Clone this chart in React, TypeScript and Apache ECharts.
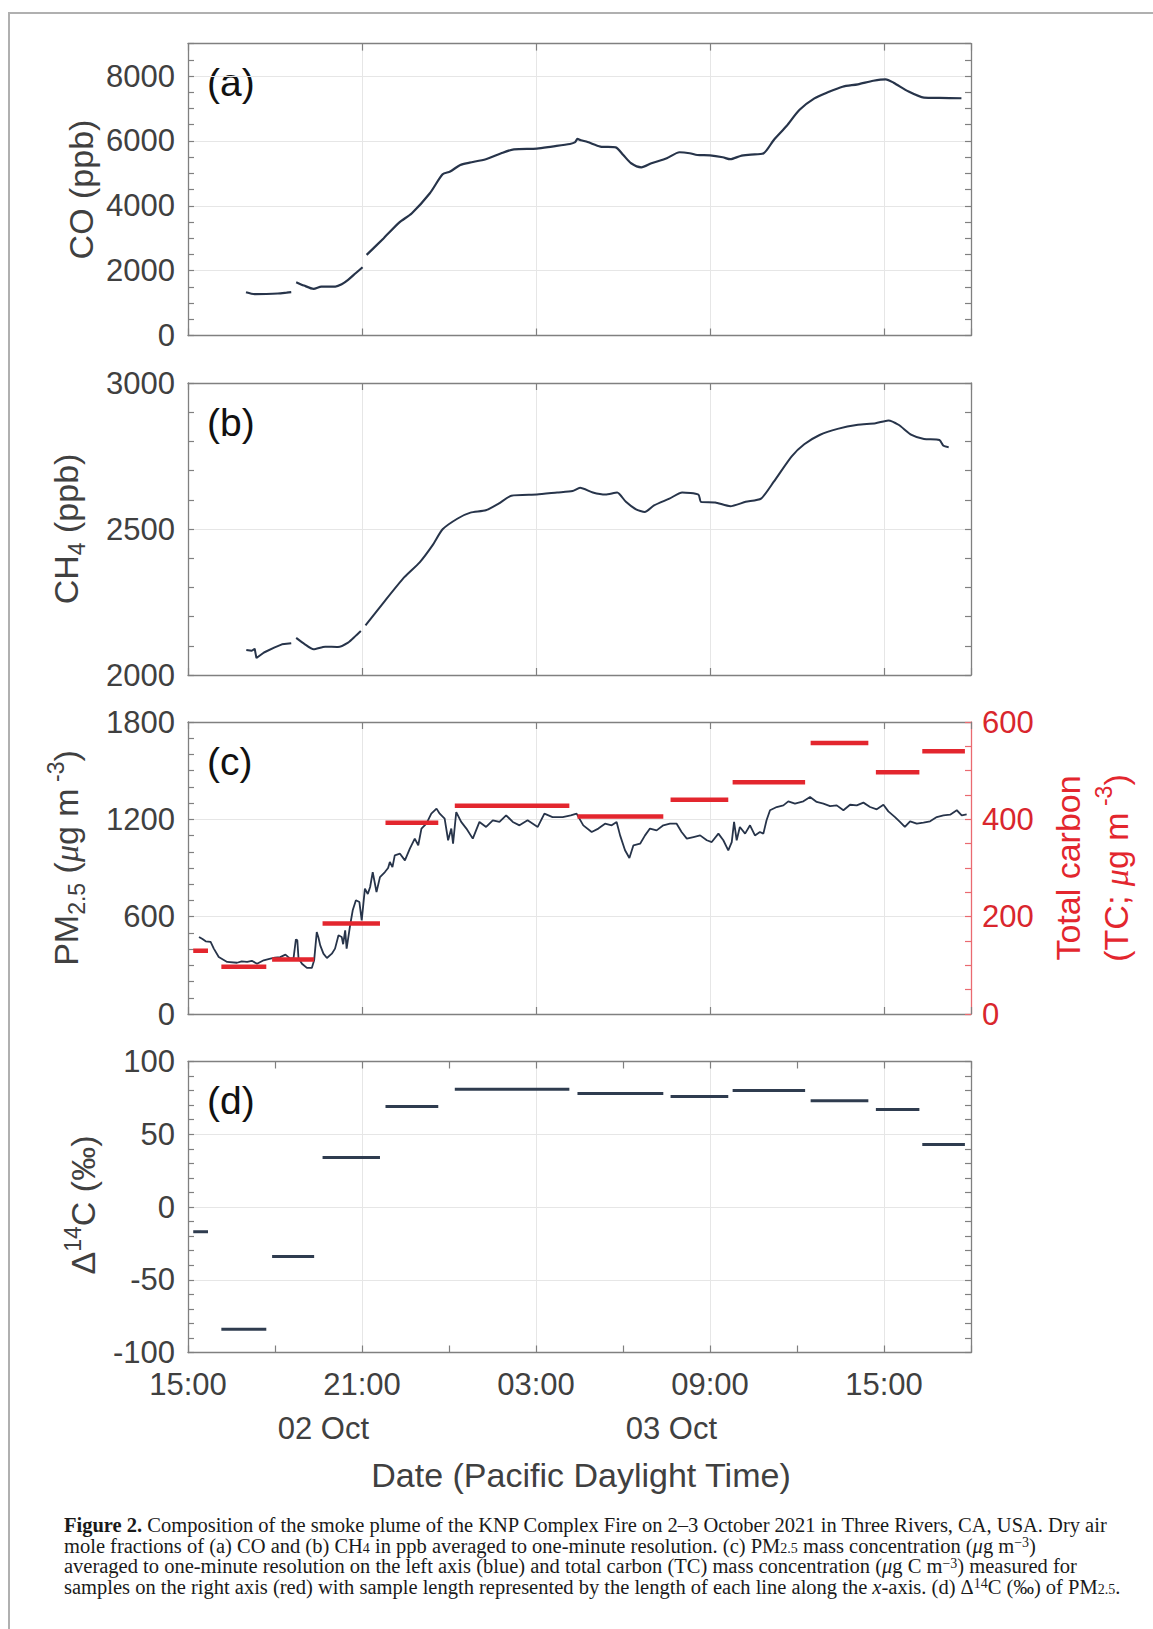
import React, { useEffect, useRef } from "react";
import * as echarts from "echarts";

// ---------------- DATA (x = hours since 2021-10-02 15:00 PDT) ----------------
const xTickLabels = ["15:00", "21:00", "03:00", "09:00", "15:00"];
const dateLabels = ["02 Oct", "03 Oct"];
const dateLabelHours = [4.67, 16.67];

const coSeg1 = [[2.0, 1335], [2.3, 1275], [2.7, 1280], [3.1, 1295], [3.4, 1320], [3.56, 1335]];
const coSeg2 = [[3.73, 1645], [4.0, 1540], [4.33, 1440], [4.6, 1510], [5.08, 1510], [5.3, 1580], [5.52, 1715], [5.78, 1920], [6.02, 2105]];
const coSeg3 = [
  [6.16, 2485], [6.75, 3000], [7.28, 3480], [7.72, 3770], [8.34, 4385], [8.78, 4970], [9.04, 5055],
  [9.39, 5260], [9.71, 5330], [10.27, 5435], [10.8, 5620], [11.24, 5740], [12.03, 5760], [12.55, 5825],
  [13.17, 5905], [13.35, 5960], [13.43, 6060], [13.55, 6020], [13.78, 5965], [14.22, 5825], [14.75, 5800],
  [15.01, 5565], [15.28, 5310], [15.63, 5185], [15.98, 5310], [16.51, 5465], [16.95, 5650], [17.3, 5620],
  [17.56, 5565], [18.0, 5555], [18.44, 5495], [18.7, 5435], [19.05, 5535], [19.41, 5575], [19.85, 5620],
  [20.2, 6030], [20.64, 6460], [21.08, 6955], [21.6, 7310], [22.04, 7490], [22.57, 7670], [23.1, 7745],
  [23.63, 7855], [24.06, 7900], [24.33, 7795], [24.85, 7520], [25.38, 7335], [25.91, 7325], [26.67, 7315],
];

const ch4Seg1 = [[2.01, 2086], [2.2, 2083], [2.3, 2090], [2.36, 2058], [2.62, 2077], [2.97, 2094], [3.24, 2105], [3.56, 2109]];
const ch4Seg2 = [[3.73, 2127], [4.03, 2105], [4.33, 2088], [4.73, 2097], [5.17, 2096], [5.52, 2111], [5.78, 2134], [5.96, 2151]];
const ch4Seg3 = [
  [6.12, 2170], [6.75, 2249], [7.46, 2335], [7.99, 2386], [8.43, 2444], [8.78, 2499], [9.3, 2536],
  [9.74, 2556], [10.27, 2564], [10.71, 2587], [11.15, 2614], [12.03, 2618], [12.73, 2625], [13.26, 2630],
  [13.52, 2641], [13.96, 2625], [14.4, 2618], [14.8, 2625], [15.1, 2593], [15.45, 2567], [15.75, 2558],
  [16.07, 2581], [16.6, 2604], [17.04, 2625], [17.6, 2618], [17.69, 2593], [18.18, 2591], [18.7, 2578],
  [19.23, 2593], [19.76, 2604], [20.2, 2662], [20.81, 2748], [21.25, 2790], [21.78, 2822], [22.4, 2843],
  [23.1, 2857], [23.71, 2862], [24.15, 2872], [24.5, 2857], [24.95, 2822], [25.38, 2808], [25.91, 2805],
  [26.05, 2785], [26.23, 2780],
];

const pm25 = [
  [0.38, 475], [0.5, 462], [0.61, 448], [0.78, 444], [0.89, 403], [1.06, 351], [1.35, 321], [1.69, 316],
  [1.85, 325], [2.04, 321], [2.2, 328], [2.38, 310], [2.61, 331], [2.84, 341], [3.0, 348], [3.18, 351],
  [3.36, 366], [3.45, 352], [3.53, 341], [3.64, 345], [3.72, 460], [3.77, 454], [3.81, 345], [3.93, 310],
  [4.1, 284], [4.27, 284], [4.35, 331], [4.44, 505], [4.5, 470], [4.56, 423], [4.67, 372], [4.79, 345],
  [4.96, 372], [5.07, 403], [5.19, 485], [5.3, 475], [5.35, 430], [5.42, 516], [5.47, 403], [5.59, 547],
  [5.68, 639], [5.79, 701], [5.91, 690], [5.99, 577], [6.1, 773], [6.2, 740], [6.28, 783], [6.37, 875],
  [6.5, 752], [6.62, 844], [6.79, 875], [6.9, 900], [6.96, 937], [7.05, 905], [7.13, 978], [7.31, 988],
  [7.48, 947], [7.65, 1019], [7.82, 1081], [7.94, 1040], [8.05, 1143], [8.22, 1173], [8.39, 1235],
  [8.57, 1266], [8.68, 1235], [8.85, 1204], [8.97, 1071], [9.08, 1143], [9.14, 1050], [9.25, 1245],
  [9.42, 1184], [9.6, 1143], [9.82, 1081], [10.05, 1184], [10.28, 1153], [10.51, 1194], [10.74, 1184],
  [10.97, 1225], [11.2, 1184], [11.43, 1163], [11.71, 1194], [12.06, 1153], [12.29, 1235], [12.57, 1214],
  [12.92, 1214], [13.2, 1225], [13.4, 1235], [13.63, 1163], [13.92, 1122], [14.15, 1143], [14.38, 1173],
  [14.61, 1163], [14.78, 1184], [14.9, 1101], [15.07, 1009], [15.22, 962], [15.36, 1040], [15.59, 1050],
  [15.76, 1101], [15.93, 1143], [16.16, 1132], [16.39, 1163], [16.62, 1173], [16.85, 1173], [17.02, 1122],
  [17.2, 1081], [17.43, 1091], [17.66, 1101], [17.89, 1071], [18.06, 1060], [18.29, 1112], [18.46, 1071],
  [18.63, 1009], [18.75, 1060], [18.83, 1184], [18.92, 1071], [19.03, 1153], [19.21, 1112], [19.38, 1163],
  [19.55, 1101], [19.72, 1122], [19.84, 1112], [19.95, 1194], [20.07, 1256], [20.3, 1276], [20.53, 1286],
  [20.7, 1311], [20.93, 1297], [21.22, 1311], [21.45, 1338], [21.68, 1307], [21.91, 1297], [22.14, 1282],
  [22.37, 1286], [22.6, 1256], [22.83, 1290], [23.06, 1286], [23.29, 1303], [23.52, 1276], [23.75, 1262],
  [23.98, 1290], [24.15, 1249], [24.38, 1214], [24.55, 1184], [24.72, 1153], [24.9, 1188], [25.13, 1173],
  [25.36, 1180], [25.59, 1188], [25.82, 1214], [26.05, 1225], [26.28, 1229], [26.51, 1256], [26.68, 1225],
  [26.85, 1231],
];

// filter samples (start / end hour), total carbon (ug C m-3) and Delta14C (permil)
const sampleStart = [0.18, 1.15, 2.9, 4.64, 6.81, 9.2, 13.43, 16.64, 18.78, 21.47, 23.72, 25.32];
const sampleEnd = [0.69, 2.7, 4.35, 6.62, 8.63, 13.15, 16.39, 18.63, 21.28, 23.46, 25.22, 26.79];
const tcValues = [130, 97, 112, 186, 393, 428, 406, 440, 476, 557, 497, 540];
const d14cValues = [-17, -84, -34, 34, 69, 81, 78, 76, 80, 73, 67, 43];

// ---------------- STYLE / LAYOUT ----------------
const W = 1153;
const H = 1629;
const PLOT_L = 188;
const PLOT_R = 971;
const X_MAX = 27;
const SANS = "Liberation Sans, Arial, Helvetica, sans-serif";
const SERIF = "Liberation Serif, Times New Roman, serif";
const NAVY = "#27344a";
const RED = "#e3262e";
const RED_AXIS = "#ea6a70";
const AXIS = "#808080";
const GRIDC = "#e6e6e6";
const TXT = "#404040";
const TICK_FS = 31;
const TITLE_FS = 34;

const panels = [
  { top: 43.6, bottom: 335.5, min: 0, max: 9000, major: 2000, minor: 500, xStep: 6, xLabels: false },
  { top: 383, bottom: 675, min: 2000, max: 3000, major: 500, minor: 100, xStep: 6, xLabels: false },
  { top: 722, bottom: 1014, min: 0, max: 1800, major: 600, minor: 100, xStep: 6, xLabels: false },
  { top: 1061.5, bottom: 1352.5, min: -100, max: 100, major: 50, minor: 10, xStep: 3, xLabels: true },
];

function buildOption() {
  const grid: any[] = [];
  const xAxis: any[] = [];
  const yAxis: any[] = [];
  const px: number[] = [];
  const py: number[] = [];
  let tcY = -1;
  const axLine = { color: AXIS, width: 1.3 };
  const tickStyle = { color: AXIS, width: 1.2 };

  panels.forEach((p, gi) => {
    grid.push({ left: PLOT_L, width: PLOT_R - PLOT_L, top: p.top, height: p.bottom - p.top, containLabel: false, outerBoundsMode: "none" });
    const xb = { type: "value", gridIndex: gi, min: 0, max: X_MAX };
    xAxis.push({
      ...xb, position: "bottom", interval: 6,
      axisLine: { show: true, onZero: false, lineStyle: axLine },
      axisTick: { show: false },
      splitLine: { show: true, lineStyle: { color: GRIDC, width: 1 } },
      axisLabel: p.xLabels
        ? {
            show: true, fontSize: TICK_FS, fontFamily: SANS, color: TXT, margin: 16, showMaxLabel: false,
            formatter: (v: number) => (v % 6 === 0 && v < X_MAX ? xTickLabels[v / 6] : ""),
          }
        : { show: false },
    });
    px.push(xAxis.length - 1);
    xAxis.push({
      ...xb, position: "bottom", interval: p.xStep,
      axisLine: { show: false, onZero: false },
      axisTick: { show: true, inside: true, length: 7, lineStyle: tickStyle },
      splitLine: { show: false }, axisLabel: { show: false },
    });
    xAxis.push({
      ...xb, position: "top", interval: p.xStep,
      axisLine: { show: true, onZero: false, lineStyle: axLine },
      axisTick: { show: true, inside: true, length: 7, lineStyle: tickStyle },
      splitLine: { show: false }, axisLabel: { show: false },
    });

    const yb = { type: "value", gridIndex: gi, min: p.min, max: p.max };
    yAxis.push({
      ...yb, position: "left", interval: p.major,
      axisLine: { show: true, onZero: false, lineStyle: axLine },
      axisTick: { show: false },
      splitLine: { show: true, lineStyle: { color: GRIDC, width: 1 } },
      axisLabel: {
        show: true, fontSize: TICK_FS, fontFamily: SANS, color: TXT, margin: 13,
        formatter: (v: number) => ((v - p.min) % p.major === 0 ? String(v) : ""),
      },
    });
    py.push(yAxis.length - 1);
    yAxis.push({
      ...yb, position: "left", interval: p.minor,
      axisLine: { show: false, onZero: false },
      axisTick: { show: true, inside: true, length: 6, lineStyle: tickStyle },
      splitLine: { show: false }, axisLabel: { show: false },
    });
    if (gi === 2) {
      yAxis.push({
        type: "value", gridIndex: gi, min: 0, max: 600, interval: 200, position: "right",
        axisLine: { show: true, onZero: false, lineStyle: { color: RED_AXIS, width: 1.3 } },
        axisTick: { show: false }, splitLine: { show: false },
        axisLabel: { show: true, fontSize: TICK_FS, fontFamily: SANS, color: "#d9262d", margin: 11 },
      });
      tcY = yAxis.length - 1;
      yAxis.push({
        type: "value", gridIndex: gi, min: 0, max: 600, interval: 50, position: "right",
        axisLine: { show: false, onZero: false },
        axisTick: { show: true, inside: true, length: 6, lineStyle: { color: RED_AXIS, width: 1.2 } },
        splitLine: { show: false }, axisLabel: { show: false },
      });
    } else {
      yAxis.push({
        ...yb, position: "right", interval: p.minor,
        axisLine: { show: true, onZero: false, lineStyle: axLine },
        axisTick: { show: true, inside: true, length: 6, lineStyle: tickStyle },
        splitLine: { show: false }, axisLabel: { show: false },
      });
    }
  });

  const lineSeries = (data: number[][], gi: number, width: number, smooth = 0) => ({
    type: "line", xAxisIndex: px[gi], yAxisIndex: py[gi], data, showSymbol: false, symbol: "none",
    silent: true, smooth, lineStyle: { color: NAVY, width }, z: 2,
  });

  const segSeries = (values: number[], yIdx: number, gi: number, color: string, width: number) => ({
    type: "custom", xAxisIndex: px[gi], yAxisIndex: yIdx, silent: true, z: 4,
    data: sampleStart.map((s, i) => [s, sampleEnd[i], values[i]]),
    encode: { x: [0, 1], y: 2 },
    renderItem: (_params: any, api: any) => {
      const a = api.coord([api.value(0), api.value(2)]);
      const b = api.coord([api.value(1), api.value(2)]);
      return {
        type: "line",
        shape: { x1: a[0], y1: a[1], x2: b[0], y2: b[1] },
        style: { stroke: color, lineWidth: width, lineCap: "butt" },
      };
    },
  });

  const series: any[] = [
    lineSeries(coSeg1, 0, 2.2, 0.25), lineSeries(coSeg2, 0, 2.2, 0.25), lineSeries(coSeg3, 0, 2.2, 0.25),
    lineSeries(ch4Seg1, 1, 2), lineSeries(ch4Seg2, 1, 2, 0.2), lineSeries(ch4Seg3, 1, 2, 0.2),
    lineSeries(pm25, 2, 1.8),
    segSeries(tcValues, tcY, 2, RED, 4.5),
    segSeries(d14cValues, py[3], 3, "#2f3c4f", 3),
  ];

  const hourToX = (h: number) => PLOT_L + (h / X_MAX) * (PLOT_R - PLOT_L);

  const txt = (x: number, y: number, text: string, extra: any = {}, rot = 0) => ({
    type: "text", x, y, rotation: rot, silent: true,
    style: {
      text, fontSize: TITLE_FS, fontFamily: SANS, fill: TXT,
      align: "center", verticalAlign: "middle", textAlign: "center", textVerticalAlign: "middle",
      ...extra,
    },
  });

  const mk = (fs: number, extra: any = {}) => ({ fontSize: fs, fontFamily: SANS, fill: TXT, color: TXT, ...extra });
  const ytRich = {
    m: mk(TITLE_FS, { lineHeight: 44 }),
    s: mk(23, { lineHeight: 23, verticalAlign: "bottom" }),
    p: mk(23, { lineHeight: 23, verticalAlign: "top" }),
    i: mk(TITLE_FS, { lineHeight: 44, fontStyle: "italic", fontFamily: SERIF }),
  };
  const redRich = {
    m: mk(TITLE_FS, { lineHeight: 48, fill: RED, color: RED }),
    p: mk(23, { lineHeight: 23, verticalAlign: "top", fill: RED, color: RED }),
    i: mk(TITLE_FS, { lineHeight: 48, fontStyle: "italic", fontFamily: SERIF, fill: RED, color: RED }),
  };

  const capFS = 20.5;
  const CAP_LH = 20;
  const cap = (fs: number, extra: any = {}) => ({ fontSize: fs, fontFamily: SERIF, fill: "#1a1a1a", ...extra });
  const capRich = {
    b: cap(capFS, { fontWeight: "bold", lineHeight: CAP_LH }),
    s: cap(14, { lineHeight: 7, verticalAlign: "bottom" }),
    p: cap(14, { lineHeight: 7, verticalAlign: "top" }),
    i: cap(capFS, { fontStyle: "italic", lineHeight: CAP_LH }),
  };
  const captionLines = [
    "{b|Figure 2.} Composition of the smoke plume of the KNP Complex Fire on 2–3 October 2021 in Three Rivers, CA, USA. Dry air",
    "mole fractions of (a) CO and (b) CH{s|4} in ppb averaged to one-minute resolution. (c) PM{s|2.5} mass concentration ({i|μ}g m{p|−3})",
    "averaged to one-minute resolution on the left axis (blue) and total carbon (TC) mass concentration ({i|μ}g C m{p|−3}) measured for",
    "samples on the right axis (red) with sample length represented by the length of each line along the {i|x}-axis. (d) Δ{p|14}C (‰) of PM{s|2.5}.",
  ];
  const captionY = [1525, 1545.5, 1566, 1586.5];

  const graphic: any[] = [
    {
      type: "polyline", silent: true,
      shape: { points: [[9, H], [9, 13], [W, 13]] },
      style: { stroke: "#b0b0b0", lineWidth: 2, fill: "none" },
    },
    // panel letters
    ...["(a)", "(b)", "(c)", "(d)"].map((t, i) =>
      txt(207, panels[i].top + 39, t, { fontSize: 39, fill: "#111", align: "left", textAlign: "left" })
    ),
    // y-axis titles
    txt(81, 189.5, "CO (ppb)", {}, Math.PI / 2),
    txt(66, 529, "{m|CH}{s|4}{m| (ppb)}", { rich: ytRich }, Math.PI / 2),
    txt(66, 858, "{m|PM}{s|2.5}{m| (}{i|μ}{m|g m}{p| -3}{m|)}", { rich: ytRich }, Math.PI / 2),
    txt(83, 1205, "{m|Δ}{p|14}{m|C (‰)}", { rich: ytRich }, Math.PI / 2),
    txt(1092, 868, "{m|Total carbon}\n{m|(TC; }{i|μ}{m|g m}{p| -3}{m|)}", { rich: redRich, fill: RED }, Math.PI / 2),
    // date labels and x title
    ...dateLabels.map((d, i) => txt(hourToX(dateLabelHours[i]), 1428, d, { fontSize: TICK_FS })),
    txt(581, 1475, "Date (Pacific Daylight Time)", { fontSize: TITLE_FS }),
    // caption
    ...captionLines.map((t, i) =>
      txt(64, captionY[i], t, {
        fontSize: capFS, fontFamily: SERIF, fill: "#1a1a1a", lineHeight: CAP_LH, rich: capRich,
        align: "left", textAlign: "left",
      })
    ),
  ];

  return { animation: false, backgroundColor: "#ffffff", grid, xAxis, yAxis, series, graphic };
}

export default function App() {
  const ref = useRef<HTMLDivElement>(null);
  useEffect(() => {
    if (!ref.current) return;
    const chart = echarts.init(ref.current, undefined, { renderer: "svg", width: W, height: H });
    chart.setOption(buildOption() as any);
    return () => chart.dispose();
  }, []);
  return (
    <div
      ref={ref}
      style={{ position: "absolute", left: 0, top: 0, width: W, height: H, background: "#fff" }}
    />
  );
}
